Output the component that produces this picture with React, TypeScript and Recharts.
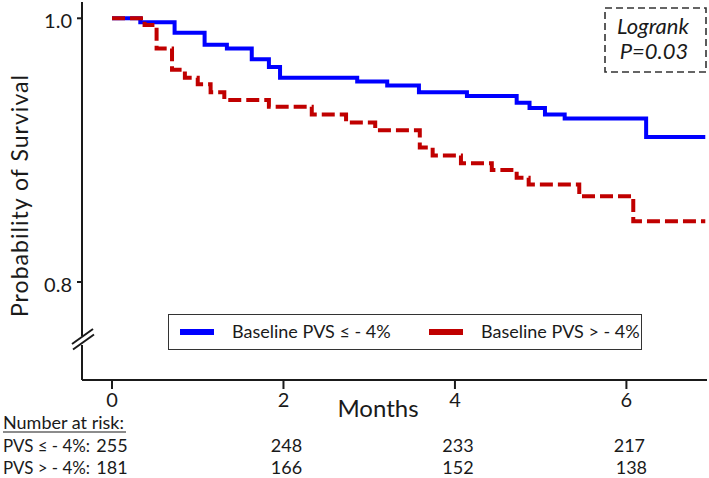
import React from 'react';
import { LineChart, Line, XAxis, YAxis, Legend } from 'recharts';

// ---- data ----
const blueTimes = [0, 0.33, 0.73, 1.08, 1.34, 1.63, 1.83, 1.96, 2.86, 3.21, 3.58, 4.14, 4.72, 4.87, 5.05, 5.28, 6.23, 6.92];
const blueSurv = [1.0, 0.997, 0.989, 0.98, 0.977, 0.969, 0.963, 0.955, 0.952, 0.949, 0.944, 0.941, 0.936, 0.932, 0.927, 0.924, 0.91, 0.91];
const redTimes = [0, 0.38, 0.52, 0.7, 0.85, 1.0, 1.15, 1.31, 1.83, 2.33, 2.73, 3.07, 3.59, 3.74, 4.07, 4.43, 4.72, 4.86, 5.45, 6.08, 6.92];
const redSurv = [1.0, 0.995, 0.977, 0.961, 0.955, 0.95, 0.944, 0.938, 0.933, 0.927, 0.921, 0.915, 0.902, 0.896, 0.89, 0.885, 0.879, 0.874, 0.865, 0.846, 0.846];
const seriesNames = ['Baseline PVS \u2264 - 4%', 'Baseline PVS > - 4%'];
const xTicks = [0, 2, 4, 6];
const yTicks = [0.8, 1.0];
const riskLabels = ['PVS \u2264 - 4%:', 'PVS > - 4%:'];
const riskLow = [255, 248, 233, 217];
const riskHigh = [181, 166, 152, 138];
const logrankText = ['Logrank', 'P=0.03'];

const blueData = blueTimes.map((t, i) => ({ t, s: blueSurv[i] }));
const redData = redTimes.map((t, i) => ({ t, s: redSurv[i] }));

const FONT = 'Lato, "Open Sans", sans-serif';
const INK = '#1a1a1a';

const XTick = (props: any) => {
  const { x, payload } = props;
  const v = payload.value;
  const i = xTicks.indexOf(v);
  const dx = i === 0 ? 0 : 3;
  return (
    <g fontFamily={FONT} fill={INK}>
      <text x={x} y={407} textAnchor="middle" fontSize={20} fill={INK}>{v}</text>
      <text x={x + dx} y={452} textAnchor="middle" fontSize={18} fill={INK}>{riskLow[i]}</text>
      <text x={x + dx + (i === 3 ? 2 : 0)} y={474} textAnchor="middle" fontSize={18} fill={INK}>{riskHigh[i]}</text>
    </g>
  );
};

const YTick = (props: any) => {
  const { x, y, payload } = props;
  return (
    <text x={x} y={y + 10} textAnchor="end" fontSize={20} fontFamily={FONT} fill={INK}>
      {payload.value.toFixed(1)}
    </text>
  );
};

const LegendContent = (props: any) => {
  const { payload } = props;
  const items = [...(payload || [])].sort(
    (a: any, b: any) => seriesNames.indexOf(a.value) - seriesNames.indexOf(b.value)
  );
  return (
    <div
      style={{
        position: 'relative',
        width: 474,
        height: 36,
        border: '1.5px solid #333',
        background: '#fff',
        fontFamily: FONT,
        fontSize: 18,
        color: INK,
        boxSizing: 'border-box',
      }}
    >
      {items.map((it: any, k: number) => (
        <div key={k} style={{ position: 'absolute', left: k === 0 ? 11 : 260, top: 0, height: 33, display: 'flex', alignItems: 'center' }}>
          <span style={{ display: 'inline-block', width: 34, height: 6, background: it.color, marginRight: 18 }} />
          <span style={{ whiteSpace: 'nowrap', lineHeight: '33px' }}>{it.value}</span>
        </div>
      ))}
    </div>
  );
};

export default function App() {
  return (
    <div style={{ position: 'absolute', left: 0, top: 0, width: 709, height: 478, background: '#fff' }}>
      <LineChart width={709} height={478} margin={{ top: 2, right: 2, left: 12, bottom: 68 }}>
        <XAxis
          type="number"
          dataKey="t"
          domain={[-0.35, 6.94]}
          ticks={xTicks}
          allowDataOverflow
          height={30}
          tickSize={9}
          stroke={INK}
          strokeWidth={2}
          tickLine={{ stroke: INK, strokeWidth: 2 }}
          tick={<XTick />}
          label={{
            content: () => (
              <text x={378} y={417} textAnchor="middle" fontSize={24} fontFamily={FONT} fill={INK}>Months</text>
            ),
          }}
        />
        <YAxis
          type="number"
          dataKey="s"
          domain={[0.72567, 1.01236]}
          ticks={yTicks}
          allowDataOverflow
          width={70}
          tickSize={5}
          tickMargin={5}
          stroke={INK}
          strokeWidth={2}
          tickLine={{ stroke: INK, strokeWidth: 2 }}
          tick={<YTick />}
          label={{
            content: () => (
              <text
                x={0}
                y={0}
                transform="translate(28,196) rotate(-90)"
                textAnchor="middle"
                fontSize={23}
                textLength={242}
                lengthAdjust="spacing"
                fontFamily={FONT}
                fill={INK}
              >
                Probability of Survival
              </text>
            ),
          }}
        />
        <Legend
          layout="horizontal"
          verticalAlign="middle"
          align="center"
          content={<LegendContent />}
          wrapperStyle={{ position: 'absolute', left: 168, top: 314, width: 474, height: 36 }}
        />
        <Line
          data={blueData}
          dataKey="s"
          name={seriesNames[0]}
          type="stepAfter"
          stroke="#0000ff"
          strokeWidth={4}
          dot={false}
          activeDot={false}
          isAnimationActive={false}
        />
        <Line
          data={redData}
          dataKey="s"
          name={seriesNames[1]}
          type="stepAfter"
          stroke="#c00000"
          strokeWidth={4}
          strokeDasharray="13 5"
          dot={false}
          activeDot={false}
          isAnimationActive={false}
        />
      </LineChart>
      <svg width={709} height={478} style={{ position: 'absolute', left: 0, top: 0, pointerEvents: 'none' }}>
        <rect x={78} y={336} width={8} height={9} fill="#fff" />
        <line x1={72} y1={344} x2={93} y2={329} stroke={INK} strokeWidth={2} />
        <line x1={73} y1={349.5} x2={94} y2={334.5} stroke={INK} strokeWidth={2} />
        <g fontFamily={FONT} fill={INK} fontSize={18}>
          <text x={3} y={429}>Number at risk:</text>
          <line x1={3} y1={432} x2={126} y2={432} stroke={INK} strokeWidth={1.2} />
          <text x={3} y={452} textLength={87} lengthAdjust="spacingAndGlyphs">{riskLabels[0]}</text>
          <text x={3} y={474} textLength={87} lengthAdjust="spacingAndGlyphs">{riskLabels[1]}</text>
        </g>
        <rect x={605} y={8} width={101} height={64} fill="#fff" stroke="#333" strokeWidth={1.6} strokeDasharray="7 4" />
        <g fontFamily={FONT} fontStyle="italic" fill={INK} fontSize={22} textAnchor="middle">
          <text x={653} y={34}>{logrankText[0]}</text>
          <text x={654} y={59}>{logrankText[1]}</text>
        </g>
      </svg>
    </div>
  );
}
